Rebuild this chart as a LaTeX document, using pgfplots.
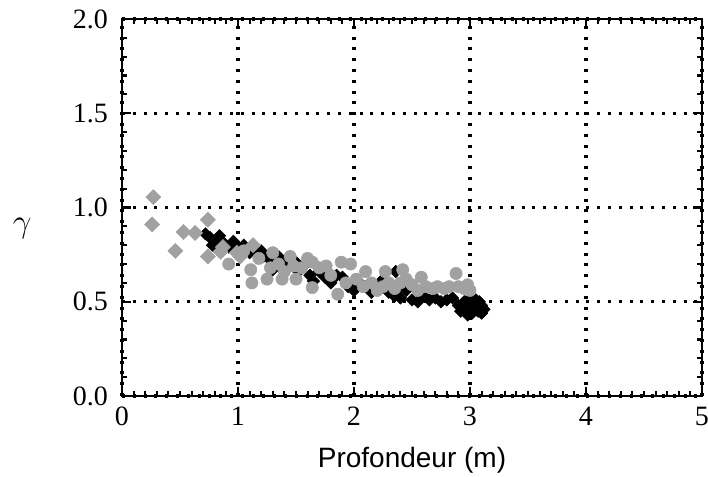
\documentclass[border=0pt]{standalone}
\usepackage{fontspec}
\setmainfont{Liberation Serif}
\newfontfamily\arialfont{Liberation Sans}
\usepackage{pgfplots}
\pgfplotsset{compat=1.18}
\definecolor{ptgray}{gray}{0.63}
\begin{document}
\begin{tikzpicture}
\path[use as bounding box] (-91.5pt,-60.75pt) rectangle (439.5pt,297pt);
\begin{axis}[
  at={(0,0)}, anchor=south west,
  scale only axis, width=435pt, height=282.75pt,
  xmin=0, xmax=5, ymin=0, ymax=2,
  xtick={0,1,2,3,4,5}, ytick={0,0.5,1,1.5,2},
  minor x tick num=9, minor y tick num=4,
  tick align=inside, major tick length=7pt, minor tick length=4pt,
  axis line style={line width=2.2pt},
  every tick/.style={black, line width=1.6pt},
  grid=major,
  major grid style={black, line width=2.3pt, dash pattern=on 2.3pt off 5.8pt},
  yticklabel style={/pgf/number format/fixed, /pgf/number format/fixed zerofill, /pgf/number format/precision=1, xshift=-7pt},
  xticklabel style={/pgf/number format/fixed, /pgf/number format/precision=0, yshift=-4.5pt},
  ticklabel style={font=\fontsize{21}{24}\selectfont},
  /pgf/number format/assume math mode=true,
  xlabel={\arialfont Profondeur (m)},
  xlabel style={font=\fontsize{21}{24}\selectfont, at={(axis description cs:0.5,0)}, anchor=center, yshift=-48.5pt},
  ylabel={$\gamma$},
  ylabel style={font=\fontsize{28}{32}\selectfont, rotate=-90, at={(axis description cs:-0.172,0.445)}, anchor=center},
]
% black series
\addplot[only marks, mark=square*, mark size=3.3pt, mark options={rotate=45, black, fill=black}] coordinates {
(0.72,0.86) (0.76,0.84) (0.80,0.82) (0.78,0.80) (0.84,0.85) (0.88,0.81) (0.92,0.79)
(0.96,0.82) (1.00,0.78) (1.05,0.80) (1.10,0.76) (1.15,0.78) (1.20,0.77) (1.22,0.74)
(1.28,0.72) (1.30,0.67) (1.35,0.74) (1.40,0.70) (1.45,0.72) (1.50,0.71) (1.52,0.66)
(1.58,0.70) (1.62,0.64) (1.65,0.61) (1.70,0.66) (1.75,0.63) (1.80,0.60) (1.85,0.64)
(1.90,0.63) (1.95,0.58) (2.00,0.56) (2.05,0.60) (2.10,0.58) (2.15,0.55) (2.20,0.58)
(2.25,0.62) (2.30,0.55) (2.35,0.53) (2.36,0.66) (2.40,0.52) (2.45,0.56) (2.50,0.51)
(2.55,0.50) (2.60,0.53) (2.65,0.51) (2.70,0.52) (2.75,0.50) (2.80,0.51) (2.85,0.52)
(2.90,0.48) (2.92,0.45) (2.95,0.50) (2.97,0.46) (3.00,0.48) (3.02,0.44) (3.05,0.47)
(3.07,0.45) (3.10,0.44) (3.10,0.48) (3.00,0.52) (3.05,0.51) (2.98,0.43) (3.12,0.46)
(2.94,0.47) (3.08,0.50)
};
% gray circles
\addplot[only marks, mark=*, mark size=4.6pt, mark options={draw=ptgray, fill=ptgray}] coordinates {
(0.92,0.70) (1.05,0.77) (1.12,0.60) (1.11,0.67) (1.18,0.73) (1.25,0.62) (1.30,0.76)
(1.35,0.70) (1.40,0.66) (1.45,0.74) (1.50,0.62) (1.55,0.68) (1.60,0.73) (1.64,0.71)
(1.64,0.575) (1.70,0.68) (1.76,0.69) (1.80,0.64) (1.86,0.54) (1.89,0.71) (1.93,0.60)
(1.97,0.70) (2.02,0.62) (2.08,0.58) (2.10,0.66) (2.15,0.60) (2.20,0.56) (2.27,0.66)
(2.30,0.60) (2.35,0.57) (2.42,0.67) (2.45,0.62) (2.50,0.59) (2.55,0.56) (2.58,0.63)
(2.62,0.58) (2.68,0.57) (2.72,0.58) (2.78,0.57) (2.82,0.58) (2.88,0.65) (2.90,0.58)
(2.95,0.57) (2.98,0.59) (3.00,0.56) (1.28,0.68) (1.38,0.62) (1.48,0.69) (2.25,0.58)
(2.40,0.60)
};
% gray diamonds
\addplot[only marks, mark=square*, mark size=4pt, mark options={rotate=45, draw=ptgray, fill=ptgray}] coordinates {
(0.27,1.055) (0.26,0.91) (0.46,0.77) (0.53,0.87) (0.63,0.865) (0.74,0.935) (0.74,0.74)
(0.87,0.79) (0.99,0.76) (0.85,0.765) (1.13,0.80) (1.02,0.74)
};
\end{axis}
\end{tikzpicture}
\end{document}
